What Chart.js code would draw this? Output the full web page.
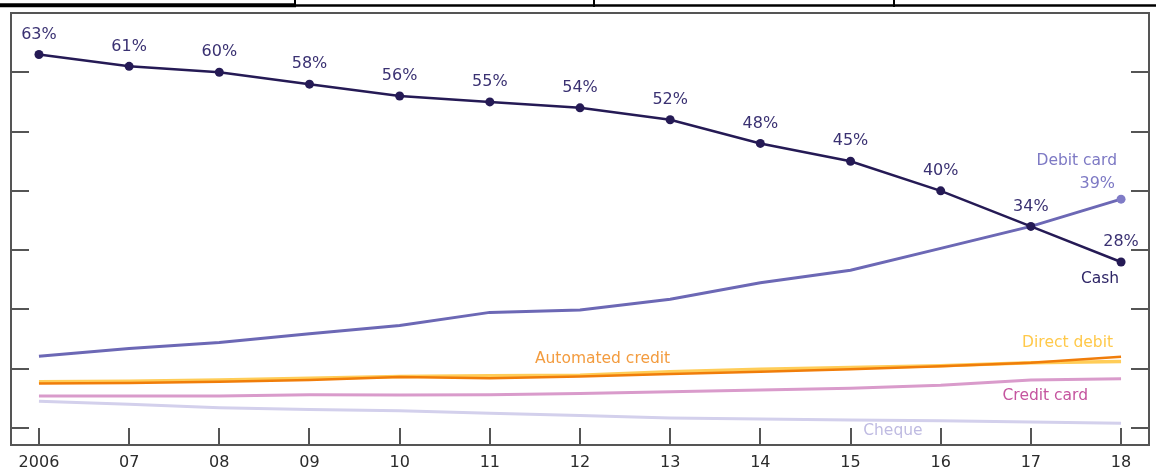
<!DOCTYPE html>
<html>
<head>
<meta charset="utf-8">
<script src="https://cdn.jsdelivr.net/npm/chart.js@4/dist/chart.umd.min.js"></script>
<style>
  html, body { margin: 0; padding: 0; background: #fff; }
  #wrap { width: 1156px; height: 472px; }
</style>
</head>
<body>
<div id="wrap"><canvas id="payChart" width="1156" height="472"></canvas></div>
<script>
// years on the x axis
var years = ['2006', '07', '08', '09', '10', '11', '12', '13', '14', '15', '16', '17', '18'];

// share of payments, per cent
var cash = [63, 61, 60, 58, 56, 55, 54, 52, 48, 45, 40, 34, 28];
var debitCard = [12.1, 13.4, 14.4, 15.9, 17.3, 19.5, 19.9, 21.7, 24.5, 26.6, 30.3, 34.0, 38.6];
var automatedCredit = [7.5, 7.6, 7.8, 8.1, 8.6, 8.4, 8.7, 9.1, 9.5, 9.9, 10.4, 11.0, 12.0];
var directDebit = [7.8, 7.9, 8.1, 8.4, 8.7, 8.8, 8.9, 9.5, 9.9, 10.2, 10.5, 11.0, 11.2];
var creditCard = [5.4, 5.4, 5.4, 5.6, 5.55, 5.6, 5.8, 6.1, 6.4, 6.7, 7.2, 8.1, 8.3];
var cheque = [4.5, 4.0, 3.4, 3.1, 2.9, 2.5, 2.1, 1.7, 1.5, 1.35, 1.2, 1.0, 0.8];

// unlabelled tick marks on the y axis
var yTicks = [0, 10, 20, 30, 40, 50, 60];

function pts(arr) {
    return arr.map(function(v, i) { return { x: i, y: v }; });
}

var FONT = '"DejaVu Sans", sans-serif';

// frame, inward ticks and the text on the chart
var framePlugin = {
    id: 'frame',
    beforeDatasetsDraw: function(chart) {
        var ctx = chart.ctx, a = chart.chartArea;
        var x = chart.scales.x, y = chart.scales.y;
        ctx.save();
        // bits of the table above the chart
        ctx.strokeStyle = '#000';
        ctx.lineWidth = 4;
        ctx.beginPath(); ctx.moveTo(0, 5.3); ctx.lineTo(296, 5.3); ctx.stroke();
        ctx.lineWidth = 2.5;
        ctx.beginPath(); ctx.moveTo(296, 5.5); ctx.lineTo(1156, 5.5); ctx.stroke();
        ctx.lineWidth = 2;
        [295, 594, 894].forEach(function(px) {
            ctx.beginPath(); ctx.moveTo(px, 0); ctx.lineTo(px, 7); ctx.stroke();
        });

        ctx.strokeStyle = '#555';
        ctx.lineWidth = 2;
        ctx.strokeRect(a.left, a.top, a.right - a.left, a.bottom - a.top);
        years.forEach(function(_, i) {
            var px = Math.round(x.getPixelForValue(i));
            ctx.beginPath(); ctx.moveTo(px, a.bottom); ctx.lineTo(px, a.bottom - 17); ctx.stroke();
        });
        yTicks.forEach(function(v) {
            var py = Math.round(y.getPixelForValue(v));
            ctx.beginPath(); ctx.moveTo(a.left, py); ctx.lineTo(a.left + 18, py); ctx.stroke();
            ctx.beginPath(); ctx.moveTo(a.right, py); ctx.lineTo(a.right - 18, py); ctx.stroke();
        });
        ctx.restore();
    },
    afterDatasetsDraw: function(chart) {
        var ctx = chart.ctx;
        var x = chart.scales.x, y = chart.scales.y;
        var last = years.length - 1;
        ctx.save();
        ctx.textBaseline = 'middle';

        // cash values above the points
        ctx.font = '16px ' + FONT;
        ctx.fillStyle = '#3a3172';
        ctx.textAlign = 'center';
        cash.forEach(function(v, i) {
            ctx.fillText(v + '%', x.getPixelForValue(i), y.getPixelForValue(v) - 20);
        });

        ctx.font = '15.5px ' + FONT;
        // Cash
        ctx.fillStyle = '#2e2566';
        ctx.fillText('Cash', x.getPixelForValue(last) - 21, y.getPixelForValue(cash[last]) + 17);
        // Debit card
        ctx.textAlign = 'right';
        ctx.fillStyle = '#7d79c4';
        ctx.fillText('Debit card', x.getPixelForValue(last) - 4, y.getPixelForValue(debitCard[last]) - 38);
        ctx.font = '16px ' + FONT;
        ctx.fillText(Math.round(debitCard[last]) + '%', x.getPixelForValue(last) - 6, y.getPixelForValue(debitCard[last]) - 15);
        ctx.font = '15.5px ' + FONT;
        // Direct debit
        ctx.fillStyle = '#ffc94a';
        ctx.fillText('Direct debit', x.getPixelForValue(last) - 8, y.getPixelForValue(directDebit[last]) - 19);
        // Credit card
        ctx.fillStyle = '#c5559f';
        ctx.fillText('Credit card', x.getPixelForValue(last) - 33, y.getPixelForValue(creditCard[last]) + 17);
        // Cheque
        ctx.textAlign = 'center';
        ctx.fillStyle = '#bfbbe2';
        ctx.fillText('Cheque', x.getPixelForValue(9.47), y.getPixelForValue(cheque[9]) + 11);
        // Automated credit
        ctx.fillStyle = '#f39c3f';
        ctx.fillText('Automated credit', x.getPixelForValue(6.25), y.getPixelForValue(automatedCredit[6]) - 17);
        ctx.restore();
    }
};

var ctx = document.getElementById('payChart').getContext('2d');
var payChart = new Chart(ctx, {
    type: 'line',
    data: {
        datasets: [
            {
                label: 'Cash',
                data: pts(cash),
                borderColor: '#251a55',
                backgroundColor: '#251a55',
                borderWidth: 2.5,
                pointRadius: 4.5,
                pointBorderWidth: 0
            },
            {
                label: 'Debit card',
                data: pts(debitCard),
                borderColor: '#6c68b5',
                backgroundColor: '#7f7bc6',
                borderWidth: 3,
                pointRadius: debitCard.map(function(_, i) { return i === debitCard.length - 1 ? 4.5 : 0; }),
                pointBorderWidth: 0
            },
            {
                label: 'Automated credit',
                data: pts(automatedCredit),
                borderColor: '#f07d0a',
                borderWidth: 2.5,
                pointRadius: 0
            },
            {
                label: 'Direct debit',
                data: pts(directDebit),
                borderColor: '#ffcd58',
                borderWidth: 3.5,
                pointRadius: 0
            },
            {
                label: 'Credit card',
                data: pts(creditCard),
                borderColor: '#d99bcb',
                borderWidth: 3,
                pointRadius: 0
            },
            {
                label: 'Cheque',
                data: pts(cheque),
                borderColor: '#d3d0ec',
                borderWidth: 3,
                pointRadius: 0
            }
        ]
    },
    options: {
        responsive: false,
        animation: false,
        clip: false,
        layout: { padding: { left: 11, right: 7, top: 13, bottom: 0 } },
        plugins: {
            legend: { display: false },
            tooltip: { enabled: false }
        },
        elements: { line: { tension: 0 } },
        scales: {
            x: {
                type: 'linear',
                min: -0.31,
                max: 12.31,
                grid: { display: false, drawTicks: false },
                border: { display: false },
                afterFit: function(scale) { scale.height = 27; },
                ticks: {
                    stepSize: 1,
                    includeBounds: false,
                    autoSkip: false,
                    maxRotation: 0,
                    padding: 8,
                    color: '#2b2b2b',
                    font: { family: FONT, size: 16 },
                    callback: function(v) { return years[v]; }
                }
            },
            y: {
                display: false,
                min: -2.87,
                max: 70
            }
        }
    },
    plugins: [framePlugin]
});
</script>
</body>
</html>
